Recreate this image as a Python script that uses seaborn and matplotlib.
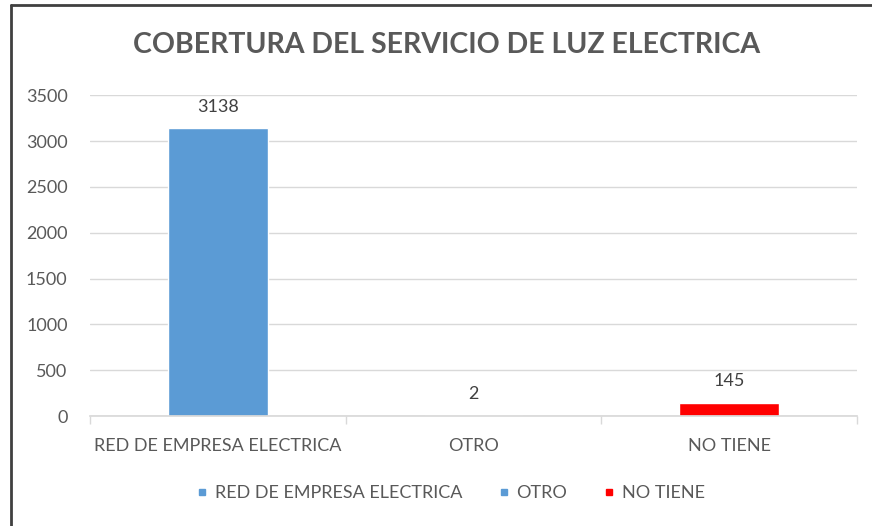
import pandas as pd
import seaborn as sns
import matplotlib.pyplot as plt
from matplotlib.lines import Line2D

# values
categories = ['RED DE EMPRESA ELECTRICA', 'OTRO', 'NO TIENE']
counts = [3138, 2, 145]
colors = ['#5B9BD5', '#5B9BD5', '#FF0000']
y_ticks = [0, 500, 1000, 1500, 2000, 2500, 3000, 3500]

df = pd.DataFrame({'Servicio': categories, 'Viviendas': counts})

sns.set_theme(style="white")
plt.rcParams['font.family'] = ['Lato', 'DejaVu Sans']
text_col = '#595959'

fig = plt.figure(figsize=(8.72, 5.26), dpi=100)
ax = fig.add_axes([0.103, 0.209, 0.880, 0.610])

sns.barplot(data=df, x='Servicio', y='Viviendas', hue='Servicio',
            palette=colors, dodge=False, width=0.39, legend=False,
            saturation=1, ax=ax)

ax.set_ylim(0, 3500)
ax.set_xlim(-0.5, len(categories) - 0.5)
ax.set_yticks(y_ticks)
ax.yaxis.grid(True, color='#D9D9D9', linewidth=1)
ax.set_axisbelow(True)
ax.set_xlabel('')
ax.set_ylabel('')
for s in ['top', 'right', 'left']:
    ax.spines[s].set_visible(False)
ax.spines['bottom'].set_color('#D9D9D9')
ax.tick_params(axis='y', colors=text_col, labelsize=13, length=0, pad=16)
ax.tick_params(axis='x', colors=text_col, labelsize=13, length=0, pad=16)

# category boundary ticks below the baseline
ax.set_xticks([-0.5, 0.5, 1.5, 2.5], minor=True)
ax.tick_params(axis='x', which='minor', length=6, color='#D9D9D9', bottom=True)

# value labels
for i, v in enumerate(counts):
    ax.annotate(str(v), (i, v), xytext=(0, 10), textcoords='offset points',
                ha='center', va='bottom', fontsize=13, color='#404040')

fig.text(0.512, 0.914, 'COBERTURA DEL SERVICIO DE LUZ ELECTRICA',
         ha='center', va='center', fontsize=20.5, fontweight='bold', color=text_col)

handles = [Line2D([], [], marker='s', linestyle='', color=c, markersize=5)
           for c in colors]
fig.legend(handles, categories, loc='center', bbox_to_anchor=(0.517, 0.062),
           ncol=3, frameon=False, fontsize=13, labelcolor=text_col,
           handlelength=0.6, handletextpad=0.4, columnspacing=2.0)

# chart border (left and top edges visible in the source)
fig.add_artist(Line2D([0.013, 0.013], [0, 0.99], color='#404040', linewidth=2,
                      transform=fig.transFigure))
fig.add_artist(Line2D([0.013, 1], [0.99, 0.99], color='#404040', linewidth=2,
                      transform=fig.transFigure))

fig.savefig('out.png', dpi=100)
